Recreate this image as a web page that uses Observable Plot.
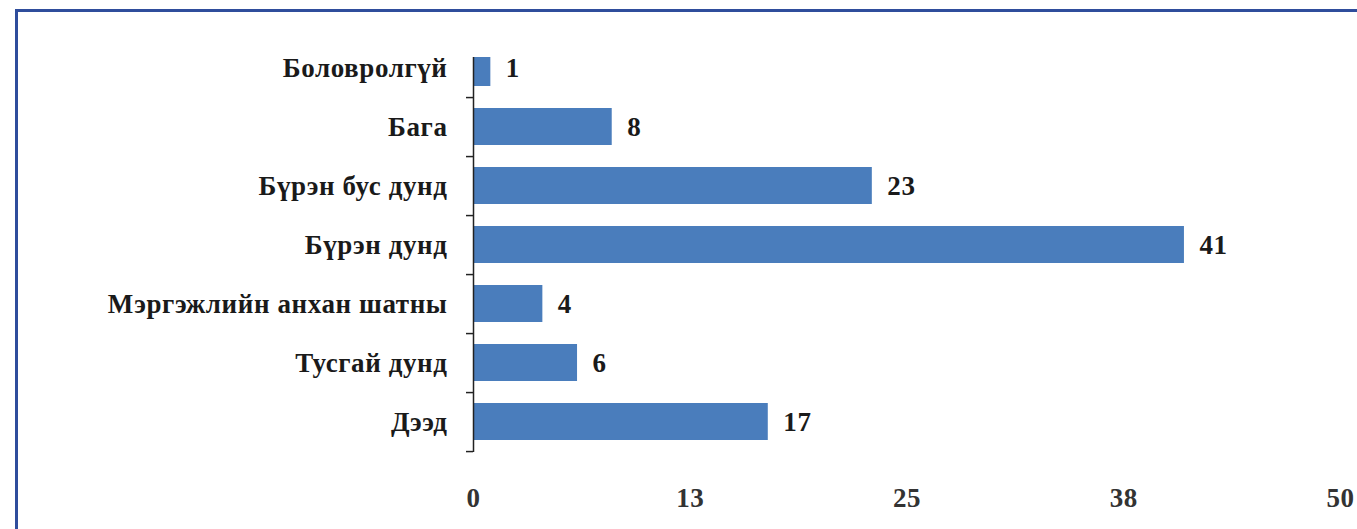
<!DOCTYPE html>
<html>
<head>
<meta charset="utf-8">
<script src="https://cdn.jsdelivr.net/npm/d3@7"></script>
<script src="https://cdn.jsdelivr.net/npm/@observablehq/plot@0.6"></script>
<style>
  html, body { margin: 0; padding: 0; background: #fff; }
  #wrap { position: relative; width: 1357px; height: 529px; overflow: hidden; }
  #border { position: absolute; left: 15px; top: 9px; width: 1400px; height: 600px;
            border-left: 3px solid #2f4d9c; border-top: 3px solid #2f4d9c; pointer-events: none; }
  #chart { position: absolute; left: 0; top: 0; }
  #chart svg text { letter-spacing: 0.6px; }
</style>
</head>
<body>
<div id="wrap"><div id="chart"></div><div id="border"></div></div>
<script>
const categories = ["Боловролгүй", "Бага", "Бүрэн бус дунд", "Бүрэн дунд", "Мэргэжлийн анхан шатны", "Тусгай дунд", "Дээд"];
const values = [1, 8, 23, 41, 4, 6, 17];
const xTicks = [0, 12.5, 25, 37.5, 50];
const xTickLabels = ["0", "13", "25", "38", "50"];

const data = categories.map((c, i) => ({category: c, value: values[i]}));
const yRange = [38, 452];
const step = (yRange[1] - yRange[0]) / categories.length;

const plot = Plot.plot({
  width: 1357,
  height: 529,
  marginLeft: 473,
  marginRight: 17,
  marginTop: 57,
  marginBottom: 77,
  style: {fontFamily: "'Liberation Serif', 'Times New Roman', serif", fontSize: "27px", fontWeight: "bold", color: "#1a1a1a", background: "transparent"},
  x: {domain: [0, 50], axis: null, label: null},
  y: {domain: categories, range: yRange, paddingInner: 0.37, paddingOuter: 0.185, axis: null, label: null},
  marks: [
    Plot.barX(data, {x: "value", y: "category", fill: "#4a7dbc", clip: true}),
    Plot.text(data, {x: "value", y: "category", text: d => String(d.value), textAnchor: "start", dx: 15, fill: "#1a1a1a"}),
    Plot.ruleX([0], {stroke: "#222", strokeWidth: 1.5}),
    Plot.axisY({ticks: categories, tickSize: 7, text: null, label: null, dy: step / 2, stroke: "#222", strokeWidth: 1.5}),
    Plot.axisY({ticks: categories, tickSize: 0, tickPadding: 26, label: null, fill: "#1a1a1a"}),
    Plot.axisX({ticks: xTicks, tickFormat: (d, i) => xTickLabels[i], tickSize: 0, tickPadding: 35, label: null, fill: "#333"})
  ]
});
document.getElementById("chart").appendChild(plot);
</script>
</body>
</html>
